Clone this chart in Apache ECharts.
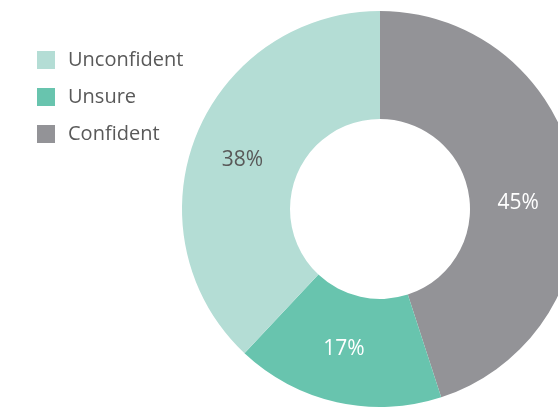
<!DOCTYPE html>
<html>
<head>
<meta charset="utf-8">
<script src="https://cdn.jsdelivr.net/npm/echarts@6/dist/echarts.min.js"></script>
<style>
html,body{margin:0;padding:0;background:#fff;}
#chart{width:558px;height:409px;}
</style>
</head>
<body>
<div id="chart"></div>
<script>
// Survey answers, in clockwise order from 12 o'clock
const categories = ['Confident', 'Unsure', 'Unconfident'];
const shares = [45, 17, 38];
const sliceColors = ['#939397', '#68c4ae', '#b4ddd5'];
const labelColors = ['#ffffff', '#ffffff', '#595959'];
const legendOrder = ['Unconfident', 'Unsure', 'Confident'];

const chart = echarts.init(document.getElementById('chart'), null, {renderer: 'canvas'});

const data = categories.map((name, i) => ({
  name: name,
  value: shares[i],
  itemStyle: {color: sliceColors[i]},
  label: {color: labelColors[i]}
}));

// small nudges of the in-slice labels
const labelShift = [[-7, 17], [-4, -3], [-1, 5]];

chart.setOption({
  animation: false,
  legend: {
    orient: 'vertical',
    left: 32,
    top: 45,
    data: legendOrder,
    icon: 'rect',
    itemWidth: 18,
    itemHeight: 18,
    itemGap: 17,
    textStyle: {
      fontFamily: 'Open Sans',
      fontSize: 20,
      lineHeight: 18,
      color: '#595959',
      padding: [0, 0, 0, 8]
    }
  },
  series: [{
    type: 'pie',
    center: [380, 209],
    radius: [90, 198],
    startAngle: 90,
    clockwise: true,
    avoidLabelOverlap: false,
    label: {
      show: true,
      position: 'inside',
      formatter: '{c}%',
      fontFamily: 'Open Sans',
      fontSize: 21
    },
    labelLine: {show: false},
    labelLayout: function (p) {
      const s = labelShift[p.dataIndex] || [0, 0];
      return {dx: s[0], dy: s[1]};
    },
    emphasis: {disabled: true},
    data: data
  }]
});
</script>
</body>
</html>
